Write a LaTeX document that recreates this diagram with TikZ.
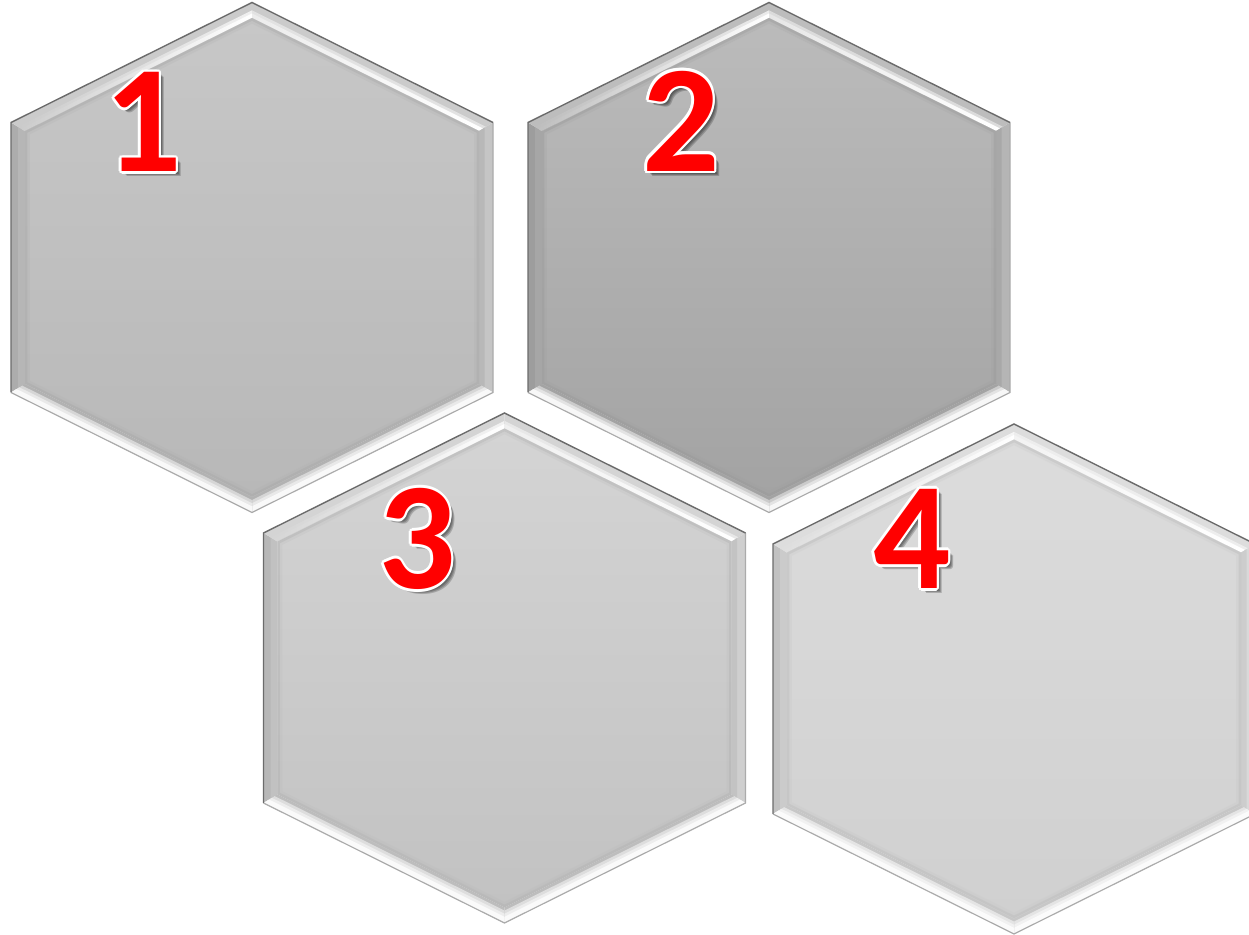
\documentclass[tikz,border=0pt]{standalone}
\usepackage{fontspec}
\newfontfamily\numfont{Carlito}
\usetikzlibrary{calc}
\definecolor{h1t}{HTML}{C7C7C7}
\definecolor{h1b}{HTML}{B8B8B8}
\definecolor{h2t}{HTML}{BBBBBB}
\definecolor{h2b}{HTML}{A3A3A3}
\definecolor{h3t}{HTML}{D4D4D4}
\definecolor{h3b}{HTML}{C2C2C2}
\definecolor{h4t}{HTML}{DCDCDC}
\definecolor{h4b}{HTML}{D0D0D0}
\def\px{0.5669pt}
\tikzset{
  numtxt/.style={inner sep=0pt, font=\numfont\bfseries\fontsize{87}{87}\selectfont},
  rimdark/.style={draw=black!58, line width=1.4*\px, line join=miter},
  rimlight/.style={draw=black!33, line width=1.2*\px, line join=miter}
}
% strip of a facet between fractions #5 and #6 of the way from outer edge (#1-#2) to inner edge (#3-#4)
\newcommand\facetstrip[7]{%
  \path[#7] ($(#1)!#5!(#3)$) -- ($(#2)!#5!(#4)$) -- ($(#2)!#6!(#4)$) -- ($(#1)!#6!(#3)$) -- cycle;}
% #1 prefix, #2 cx, #3 cy, #4 top colour, #5 bottom colour
\newcommand\hexcell[5]{%
  \coordinate (#1o1) at (#2,#3-255);
  \coordinate (#1o2) at (#2+241,#3-135);
  \coordinate (#1o3) at (#2+241,#3+135);
  \coordinate (#1o4) at (#2,#3+255);
  \coordinate (#1o5) at (#2-241,#3+135);
  \coordinate (#1o6) at (#2-241,#3-135);
  \coordinate (#1i1) at (#2,#3-239.4);
  \coordinate (#1i2) at (#2+227,#3-126.4);
  \coordinate (#1i3) at (#2+227,#3+126.4);
  \coordinate (#1i4) at (#2,#3+239.4);
  \coordinate (#1i5) at (#2-227,#3+126.4);
  \coordinate (#1i6) at (#2-227,#3-126.4);
  \colorlet{hm}{#4!50!#5}%
  % left facet
  \facetstrip{#1o6}{#1o5}{#1i6}{#1i5}{0}{1}{fill=hm!90!black}
  \facetstrip{#1o6}{#1o5}{#1i6}{#1i5}{0.5}{1}{fill=hm!95!black}
  % top-left facet
  \facetstrip{#1o6}{#1o1}{#1i6}{#1i1}{0}{1}{fill=hm!82!white}
  \facetstrip{#1o6}{#1o1}{#1i6}{#1i1}{0.5}{1}{left color=hm!82!white,right color=white!75!hm}
  \facetstrip{#1o6}{#1o1}{#1i6}{#1i1}{0.7}{0.97}{left color=hm!80!white,right color=white}
  % top-right facet
  \facetstrip{#1o1}{#1o2}{#1i1}{#1i2}{0}{1}{fill=hm!82!white}
  \facetstrip{#1o1}{#1o2}{#1i1}{#1i2}{0.5}{1}{fill=white!55!hm}
  \facetstrip{#1o1}{#1o2}{#1i1}{#1i2}{0.7}{0.97}{left color=white!70!hm,right color=white}
  % right facet
  \facetstrip{#1o2}{#1o3}{#1i2}{#1i3}{0}{1}{fill=hm!92!white}
  \facetstrip{#1o2}{#1o3}{#1i2}{#1i3}{0.6}{1}{fill=hm!96!black}
  % bottom-right facet
  \facetstrip{#1o3}{#1o4}{#1i3}{#1i4}{0}{1}{fill=hm!93!black}
  \facetstrip{#1o3}{#1o4}{#1i3}{#1i4}{0}{0.8}{fill=white!35!hm}
  \facetstrip{#1o3}{#1o4}{#1i3}{#1i4}{0}{0.6}{fill=white!65!hm}
  \facetstrip{#1o3}{#1o4}{#1i3}{#1i4}{0}{0.4}{fill=white!90!hm}
  % bottom-left facet
  \facetstrip{#1o4}{#1o5}{#1i4}{#1i5}{0}{1}{fill=hm!93!black}
  \facetstrip{#1o4}{#1o5}{#1i4}{#1i5}{0}{0.8}{fill=white!35!hm}
  \facetstrip{#1o4}{#1o5}{#1i4}{#1i5}{0}{0.6}{fill=white!65!hm}
  \facetstrip{#1o4}{#1o5}{#1i4}{#1i5}{0}{0.4}{fill=white!90!hm}
  % face
  \shade[top color=#4,bottom color=#5] (#1i1)--(#1i2)--(#1i3)--(#1i4)--(#1i5)--(#1i6)--cycle;
  \begin{scope}
    \clip (#1i1)--(#1i2)--(#1i3)--(#1i4)--(#1i5)--(#1i6)--cycle;
    \draw[hm!85!black, line width=5*\px, opacity=0.35, line join=miter] (#1i1)--(#1i2)--(#1i3)--(#1i4)--(#1i5)--(#1i6)--cycle;
    \draw[hm!90!black, line width=10*\px, opacity=0.2, line join=miter] (#1i1)--(#1i2)--(#1i3)--(#1i4)--(#1i5)--(#1i6)--cycle;
  \end{scope}
  % rims
  \draw[rimlight] (#1o2)--(#1o3)--(#1o4)--(#1o5);
  \draw[rimdark] (#1o5)--(#1o6)--(#1o1)--(#1o2);
}
% #1 name, #2 x, #3 y, #4 text
\newcommand\numlabel[4]{%
  \foreach \k in {3,4,5}
    \node[numtxt, text=black, opacity=0.2] (#1s\k) at (#2+\k,#3+\k) {#4};
  \foreach \k in {0,...,11}
    \node[numtxt, text=white] (#1w\k) at ($(#2,#3)+({\k*30}:2.6)$) {#4};
  \node[numtxt, text=red] (#1) at (#2,#3) {#4};
}
\begin{document}
\begin{tikzpicture}[x=0.02cm,y=-0.02cm]
\useasboundingbox (0,0) rectangle (1249,935);
\clip (0,0) rectangle (1249,935);
\hexcell{a}{252}{257.5}{h1t}{h1b}
\hexcell{b}{769}{257.5}{h2t}{h2b}
\hexcell{c}{504.5}{668}{h3t}{h3b}
\hexcell{d}{1014}{679}{h4t}{h4b}
\numlabel{n1}{143}{122}{1}
\numlabel{n2}{681}{121}{2}
\numlabel{n3}{417}{539}{3}
\numlabel{n4}{912}{539}{4}
\end{tikzpicture}
\end{document}
